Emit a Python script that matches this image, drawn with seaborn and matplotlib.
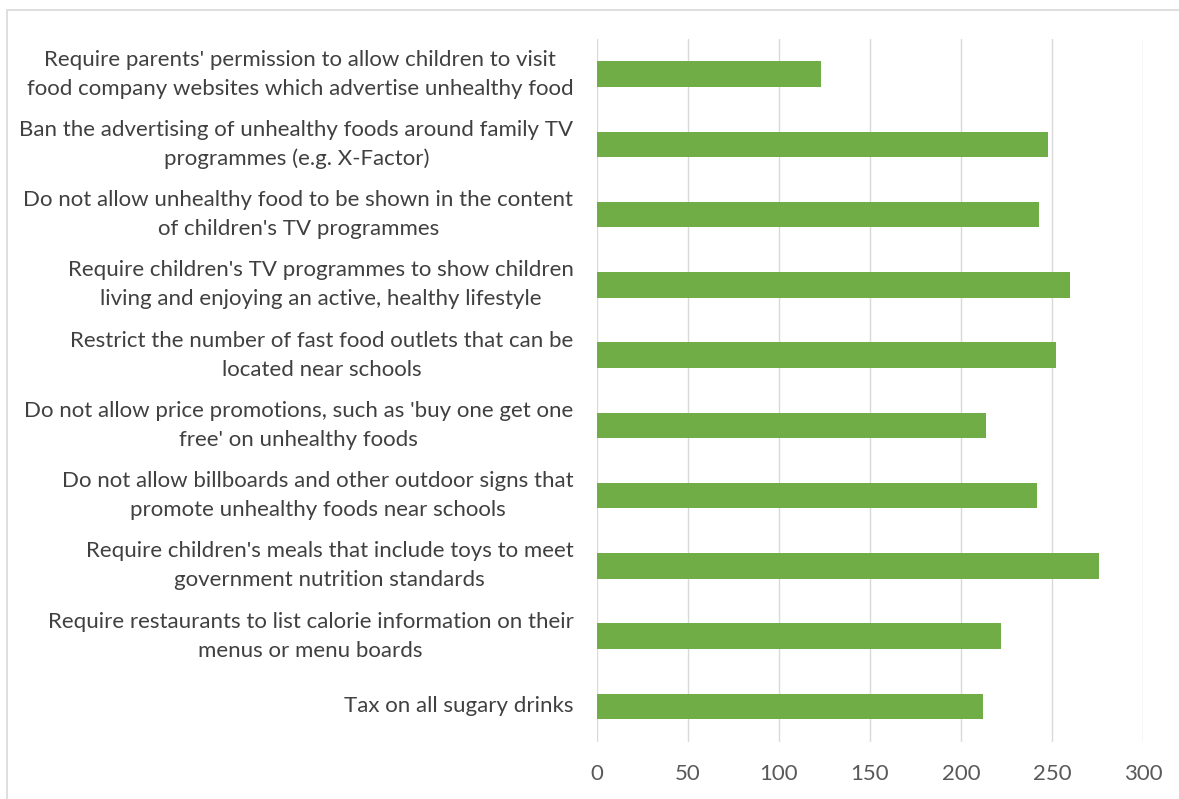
import matplotlib
matplotlib.use("Agg")
import matplotlib.pyplot as plt
import seaborn as sns
import pandas as pd
from matplotlib.patches import Rectangle

categories = [
    "Require parents' permission to allow children to visit\nfood company websites which advertise unhealthy food",
    "Ban the advertising of unhealthy foods around family TV\nprogrammes (e.g. X-Factor)",
    "Do not allow unhealthy food to be shown in the content\nof children's TV programmes",
    "Require children's TV programmes to show children\nliving and enjoying an active, healthy lifestyle",
    "Restrict the number of fast food outlets that can be\nlocated near schools",
    "Do not allow price promotions, such as 'buy one get one\nfree' on unhealthy foods",
    "Do not allow billboards and other outdoor signs that\npromote unhealthy foods near schools",
    "Require children's meals that include toys to meet\ngovernment nutrition standards",
    "Require restaurants to list calorie information on their\nmenus or menu boards",
    "Tax on all sugary drinks",
]
values = [123, 248, 243, 260, 252, 214, 242, 276, 222, 212]
x_ticks = [0, 50, 100, 150, 200, 250, 300]

sns.set_theme(style="white")
plt.rcParams["font.family"] = ["Lato", "DejaVu Sans"]

W, H = 1179, 799
fig = plt.figure(figsize=(W / 100, H / 100), dpi=100)
ax = fig.add_axes([597 / W, (H - 741.5) / H, (1143 - 597) / W, (741.5 - 39) / H])

df = pd.DataFrame({"category": categories, "value": values})
sns.barplot(data=df, x="value", y="category", orient="h", color="#70AD47",
            width=0.36, saturation=1, ax=ax, edgecolor="none", zorder=3)

ax.set_xlim(0, 300)
ax.set_xticks(x_ticks)
ax.set_xticklabels([str(t) for t in x_ticks])
ax.grid(axis="x", color="#D9D9D9", linewidth=1.0, zorder=0)
ax.set_axisbelow(True)
for s in ax.spines.values():
    s.set_visible(False)
ax.set_xlabel("")
ax.set_ylabel("")
ax.tick_params(axis="x", length=0, pad=16, labelsize=16, labelcolor="#595959")
ax.tick_params(axis="y", length=0, pad=17, labelsize=16, labelcolor="#404040")
for lbl in ax.get_yticklabels():
    lbl.set_multialignment("center")
    lbl.set_linespacing(1.55)
    lbl.set_verticalalignment("center")

fig.patches.append(Rectangle((7.5 / W, -0.1), 2.0, (H - 9.5) / H + 0.1,
                             transform=fig.transFigure, fill=False,
                             edgecolor="#D9D9D9", linewidth=1.2))

fig.savefig("out.png", dpi=100, facecolor="white")
